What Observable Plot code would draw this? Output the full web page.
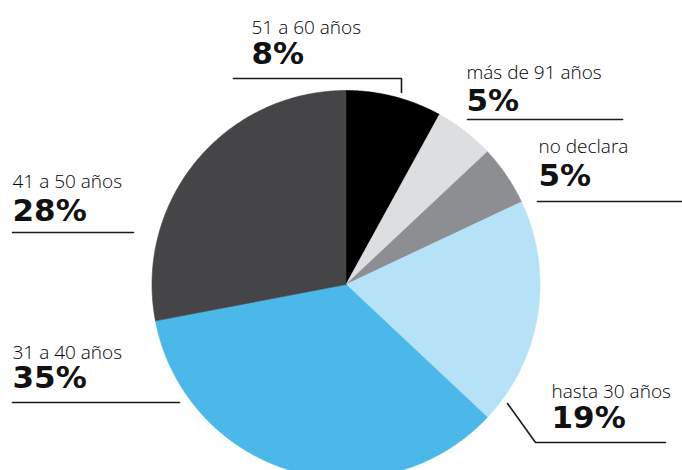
<!DOCTYPE html>
<html><head><meta charset="utf-8">
<script src="https://cdn.jsdelivr.net/npm/d3@7"></script>
<script src="https://cdn.jsdelivr.net/npm/@observablehq/plot@0.6"></script>
<style>body{margin:0;background:#fff}</style>
</head><body><div id="chart"></div>
<script>
// ---- data ----
const categories = ["51 a 60 años", "más de 91 años", "no declara", "hasta 30 años", "31 a 40 años", "41 a 50 años"];
const values = [8, 5, 5, 19, 35, 28];
const percentLabels = ["8%", "5%", "5%", "19%", "35%", "28%"];
const colors = ["#000000", "#dddee0", "#8d8e91", "#b6e2f7", "#4ab9e9", "#454547"];

// ---- layout (pixel units; scales are identity) ----
const W = 682, H = 470;
const cx = 345.5, cy = 284, R = 194;
const labelX = [251, 466, 538, 551, 12, 12];
const labelY = [33, 78, 152, 397, 358, 187];
const pctY = [63, 110, 185, 427, 387, 220];
const leaders = [
  [[233, 78], [401, 78], [401, 92]],
  [[467, 119], [622, 119]],
  [[537, 201], [682, 201]],
  [[507, 403], [535, 442], [665, 442]],
  [[12, 402], [179, 402]],
  [[12, 232], [133, 232]]
];

// ---- pie polygons from data ----
const arcs = d3.pie().sort(null).value(d => d.value)(categories.map((c, i) => ({cat: c, value: values[i]})));
const slicePts = [];
for (const a of arcs) {
  const cat = a.data.cat;
  slicePts.push({cat, x: cx, y: cy});
  const n = Math.max(8, Math.ceil((a.endAngle - a.startAngle) / 0.01));
  for (let k = 0; k <= n; k++) {
    const t = a.startAngle + (a.endAngle - a.startAngle) * k / n;
    slicePts.push({cat, x: cx + R * Math.sin(t), y: cy - R * Math.cos(t)});
  }
  slicePts.push({cat, x: cx, y: cy});
}

const leaderPts = leaders.flatMap((l, i) => l.map(([x, y]) => ({i, x, y})));
const labels = categories.map((c, i) => ({cat: c, x: labelX[i], y: labelY[i], py: pctY[i], pct: percentLabels[i]}));

const chart = Plot.plot({
  width: W, height: H,
  margin: 0,
  x: {domain: [0, W], range: [0, W], axis: null},
  y: {domain: [0, H], range: [0, H], axis: null},
  color: {domain: categories, range: colors},
  style: {background: "#fff"},
  marks: [
    Plot.line(slicePts, {x: "x", y: "y", z: "cat", fill: "cat", stroke: "cat", strokeWidth: 0.6, curve: "linear"}),
    Plot.line(leaderPts, {x: "x", y: "y", z: "i", stroke: "#1a1a1a", strokeWidth: 1.6}),
    Plot.text(labels, {x: "x", y: "y", text: "cat", textAnchor: "start", lineAnchor: "bottom",
      fontFamily: "Open Sans", fontWeight: 300, fontSize: 19, fill: "#000"}),
    Plot.text(labels, {x: "x", y: "py", text: "pct", textAnchor: "start", lineAnchor: "bottom",
      fontFamily: "DejaVu Sans", fontWeight: "bold", fontSize: 31, fill: "#111"})
  ]
});
document.getElementById("chart").appendChild(chart);
</script>
</body></html>
